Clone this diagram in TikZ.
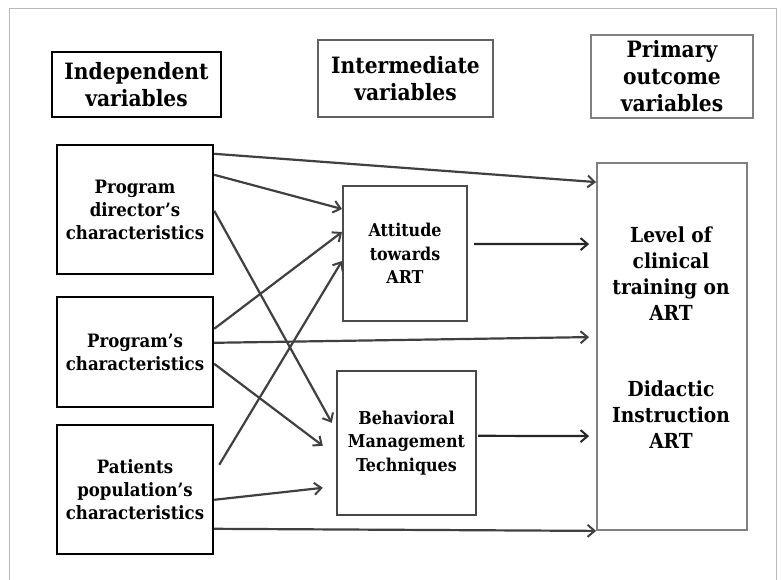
\documentclass[tikz,border=0pt]{standalone}
\usepackage{fontspec}
\setmainfont{DejaVu Serif Condensed}
\usetikzlibrary{arrows.meta,calc}
\definecolor{arrowgray}{gray}{0.25}
\tikzset{
  hdr/.style={draw, line width=2.2pt, inner sep=0pt, align=center,
    font=\fontsize{22.5}{27}\selectfont\bfseries},
  box/.style={draw, line width=2.4pt, inner sep=0pt, align=center,
    font=\fontsize{18.4}{23}\selectfont\bfseries},
  midbox/.style={draw, line width=2pt, inner sep=0pt, align=center,
    font=\fontsize{17.7}{23.5}\selectfont\bfseries},
  outtext/.style={inner sep=0pt, align=center,
    font=\fontsize{20.7}{26}\selectfont\bfseries},
  conn/.style={draw=arrowgray, line width=2.2pt,
    -{Straight Barb[length=7pt,width=12pt,line width=2pt]}},
}
\begin{document}
\begin{tikzpicture}[x=1pt,y=-1pt]
\useasboundingbox (0,0) rectangle (782,580);
\fill[white] (0,0) rectangle (782,580);
\draw[gray!55, line width=1pt] (9,580) -- (9,9) -- (776,9) -- (776,580);

% headers
\node[hdr, draw=black, line width=2.4pt, minimum width=169pt, minimum height=65pt] (indep) at (136.5,84.5) {Independent\\variables};
\node[hdr, draw=black!62, minimum width=175pt, minimum height=77pt] (inter) at (405.5,78.5) {Intermediate\\variables};
\node[hdr, draw=black!50, minimum width=162pt, minimum height=83pt] (prim) at (672,76.5) {Primary\\outcome\\variables};

% independent boxes
\node[box, minimum width=156pt, minimum height=129pt] (pd) at (135,209.5) {Program\\director’s\\characteristics};
\node[box, minimum width=156pt, minimum height=110pt] (pr) at (135,352) {Program’s\\characteristics};
\node[box, minimum width=156pt, minimum height=129pt] (pa) at (135,489.5) {Patients\\population’s\\characteristics};

% intermediate boxes
\node[midbox, draw=black!70, minimum width=124pt, minimum height=135pt] (att) at (405,253.5) {Attitude\\towards\\ART};
\node[midbox, draw=black!72, line width=2.4pt, minimum width=139pt, minimum height=144pt] (beh) at (406.5,443) {Behavioral\\Management\\Techniques};

% outcome box
\node[draw=black!50, line width=1.8pt, minimum width=150pt, minimum height=367pt, inner sep=0pt] (out) at (672,346.5) {};
\node[outtext] (lvl) at (671,274) {Level of\\clinical\\training on\\ART};
\node[outtext] (did) at (671,415) {Didactic\\Instruction\\ART};

% connectors
\draw[conn] ([yshift=-10pt]pd.north east) -- ([yshift=-20pt]out.north west);
\draw[conn] ([yshift=-31pt]pd.north east) -- ([yshift=-24pt]att.north west);
\draw[conn] ([yshift=-67pt]pd.north east) -- ([xshift=-4pt,yshift=-53pt]beh.north west);
\draw[conn] ([yshift=-33pt]pr.north east) -- ([yshift=-47pt]att.north west);
\draw[conn] ([yshift=-47pt]pr.north east) -- ([xshift=-7pt,yshift=-175pt]out.north west);
\draw[conn] ([yshift=-68pt]pr.north east) -- ([xshift=-13pt,yshift=-76pt]beh.north west);
\draw[conn] ([xshift=5pt,yshift=-41pt]pa.north east) -- ([yshift=-76pt]att.north west);
\draw[conn] ([yshift=-76pt]pa.north east) -- ([xshift=-13pt,yshift=-118pt]beh.north west);
\draw[conn] ([yshift=-105pt]pa.north east) -- (out.south west);
\draw[conn, draw=black!85] ([xshift=6pt,yshift=-59pt]att.north east) -- ([xshift=-7pt,yshift=-82pt]out.north west);
\draw[conn, draw=black!85] ([xshift=1pt,yshift=-66pt]beh.north east) -- ([xshift=-7pt,yshift=-274pt]out.north west);
\end{tikzpicture}
\end{document}
